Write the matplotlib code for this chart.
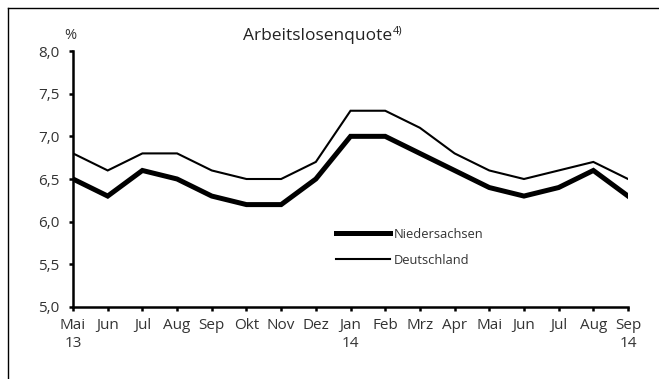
import matplotlib
matplotlib.use("Agg")
import matplotlib.pyplot as plt
from matplotlib.lines import Line2D

months = ["Mai\n13", "Jun", "Jul", "Aug", "Sep", "Okt", "Nov", "Dez",
          "Jan\n14", "Feb", "Mrz", "Apr", "Mai", "Jun", "Jul", "Aug", "Sep\n14"]
niedersachsen = [6.5, 6.3, 6.6, 6.5, 6.3, 6.2, 6.2, 6.5, 7.0, 7.0, 6.8, 6.6, 6.4, 6.3, 6.4, 6.6, 6.3]
deutschland = [6.8, 6.6, 6.8, 6.8, 6.6, 6.5, 6.5, 6.7, 7.3, 7.3, 7.1, 6.8, 6.6, 6.5, 6.6, 6.7, 6.5]
y_ticks = [5.0, 5.5, 6.0, 6.5, 7.0, 7.5, 8.0]

plt.rcParams["font.family"] = ["Open Sans", "DejaVu Sans"]
text_col = "#333333"

fig = plt.figure(figsize=(6.59, 3.79), dpi=100)
ax = fig.add_axes([0.1108, 0.19, 0.8422, 0.6754])

x = list(range(len(months)))
ax.plot(x, niedersachsen, color="black", lw=3.6, solid_joinstyle="miter",
        label="Niedersachsen")
ax.plot(x, deutschland, color="black", lw=1.5, solid_joinstyle="miter",
        label="Deutschland")

ax.set_xlim(0, len(months) - 1)
ax.set_ylim(5.0, 8.0)
ax.set_xticks(x)
ax.set_xticklabels(months, fontsize=11, color=text_col, linespacing=1.25)
ax.set_yticks(y_ticks)
ax.set_yticklabels([f"{v:.1f}".replace(".", ",") for v in y_ticks],
                   fontsize=11, color=text_col)
ax.tick_params(axis="both", direction="out", length=3, width=1.8)
ax.tick_params(axis="x", pad=5)
ax.tick_params(axis="y", pad=7)

for side in ("top", "right"):
    ax.spines[side].set_visible(False)
for side in ("left", "bottom"):
    ax.spines[side].set_linewidth(1.8)

ax.text(-0.005, 1.03, "%", transform=ax.transAxes, fontsize=10.5,
        color=text_col, ha="center", va="bottom")
fig.text(0.369, 0.905, "Arbeitslosenquote", fontsize=12.5,
         color="#222222", ha="left", va="center")
fig.text(0.596, 0.918, "4)", fontsize=8,
         color="#222222", ha="left", va="center")

ax.legend(loc="upper left", bbox_to_anchor=(0.474, 0.31), frameon=False,
          fontsize=9.3, handlelength=4.2, handletextpad=0.3, labelspacing=1.0,
          labelcolor=text_col, borderpad=0, borderaxespad=0)

# outer frame: left and top edges
fig.add_artist(Line2D([0.0121, 0.0121], [0.0, 0.979], transform=fig.transFigure,
                      color="black", lw=1.0))
fig.add_artist(Line2D([0.0121, 1.0], [0.979, 0.979], transform=fig.transFigure,
                      color="black", lw=1.0))

fig.savefig("out.png", dpi=100)
